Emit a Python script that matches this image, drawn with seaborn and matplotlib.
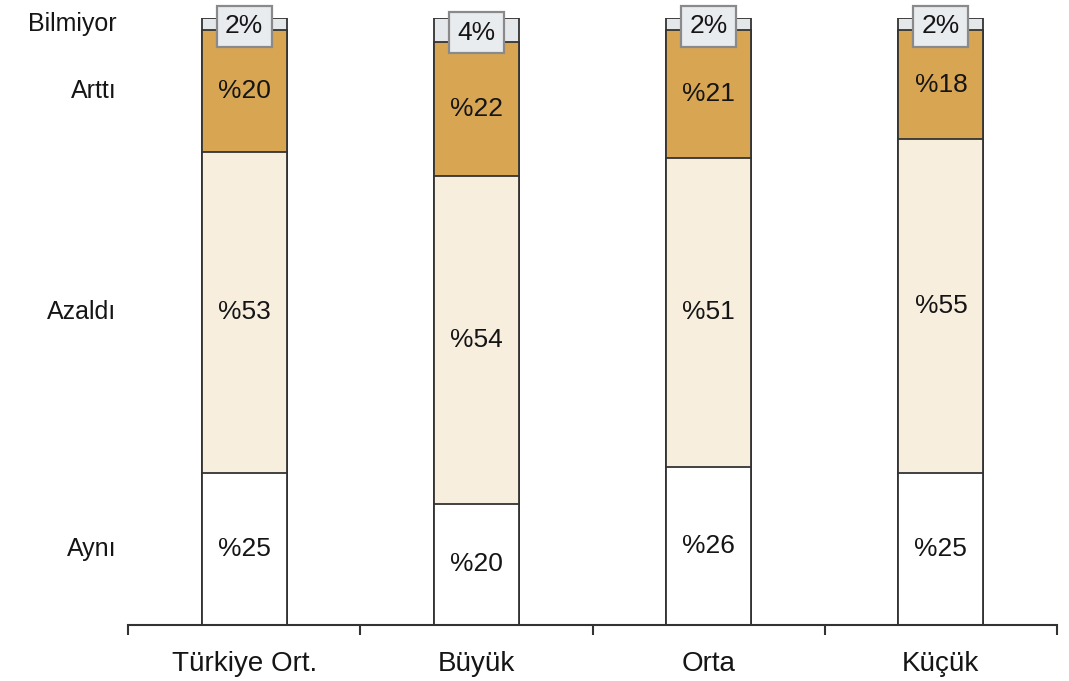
import numpy as np
import pandas as pd
import seaborn as sns
import matplotlib.pyplot as plt

# categories and shares (%)
categories = ["Türkiye Ort.", "Büyük", "Orta", "Küçük"]
ayni = [25, 20, 26, 25]
azaldi = [53, 54, 51, 55]
artti = [20, 22, 21, 18]
bilmiyor = [2, 4, 2, 2]

series_names = ["Aynı", "Azaldı", "Arttı", "Bilmiyor"]
colors = ["#FFFFFF", "#F7EEDE", "#D8A653", "#E5E8EA"]

sns.set_theme(style="white")
plt.rcParams["font.family"] = ["Liberation Sans", "DejaVu Sans"]

fig = plt.figure(figsize=(10.69, 6.81), dpi=100)
ax = fig.add_axes([128 / 1069, 1 - 625 / 681, 929 / 1069, 607 / 681])

layers = np.array([ayni, azaldi, artti, bilmiyor], dtype=float)
tops = layers.cumsum(axis=0)
bottoms = tops - layers

# draw cumulative bars from the tallest down so the stacks overlap correctly
for i in range(3, -1, -1):
    df = pd.DataFrame({"cat": categories, "val": tops[i]})
    sns.barplot(data=df, x="cat", y="val", order=categories, color=colors[i],
                saturation=1, width=0.366, edgecolor="#333333", linewidth=1.3, ax=ax)

txt = "#151515"
for j in range(len(categories)):
    for i in range(3):
        mid = (bottoms[i, j] + tops[i, j]) / 2
        ax.text(j, mid, f"%{int(layers[i, j])}", ha="center", va="center",
                fontsize=19, color=txt)
    mid = (bottoms[3, j] + tops[3, j]) / 2
    ax.text(j, mid - 0.4, f"{int(layers[3, j])}%", ha="center", va="center",
            fontsize=19, color=txt, clip_on=False,
            bbox=dict(boxstyle="square,pad=0.32", fc="#E8ECEF", ec="#8A8A8A", lw=1.6))

# series names on the left, next to the first bar's segments
for i, name in enumerate(series_names):
    mid = (bottoms[i, 0] + tops[i, 0]) / 2
    ax.text(-0.55, mid, name, ha="right", va="center", fontsize=18,
            color=txt, clip_on=False)

ax.set_xlim(-0.5, 3.5)
ax.set_ylim(0, 100)
ax.set_xlabel("")
ax.set_ylabel("")
ax.set_yticks([])
sns.despine(ax=ax, left=True, top=True, right=True)
ax.spines["bottom"].set_color("#333333")
ax.spines["bottom"].set_linewidth(1.5)
ax.set_xticks(range(len(categories)))
ax.set_xticklabels(categories, fontsize=20, color=txt)
ax.set_xticks([-0.5, 0.5, 1.5, 2.5, 3.5], minor=True)
ax.tick_params(axis="x", which="major", length=0, pad=19)
ax.tick_params(axis="x", which="minor", bottom=True, direction="out",
               length=7, width=1.5, color="#333333")

fig.savefig("out.png", dpi=100, facecolor="white")
